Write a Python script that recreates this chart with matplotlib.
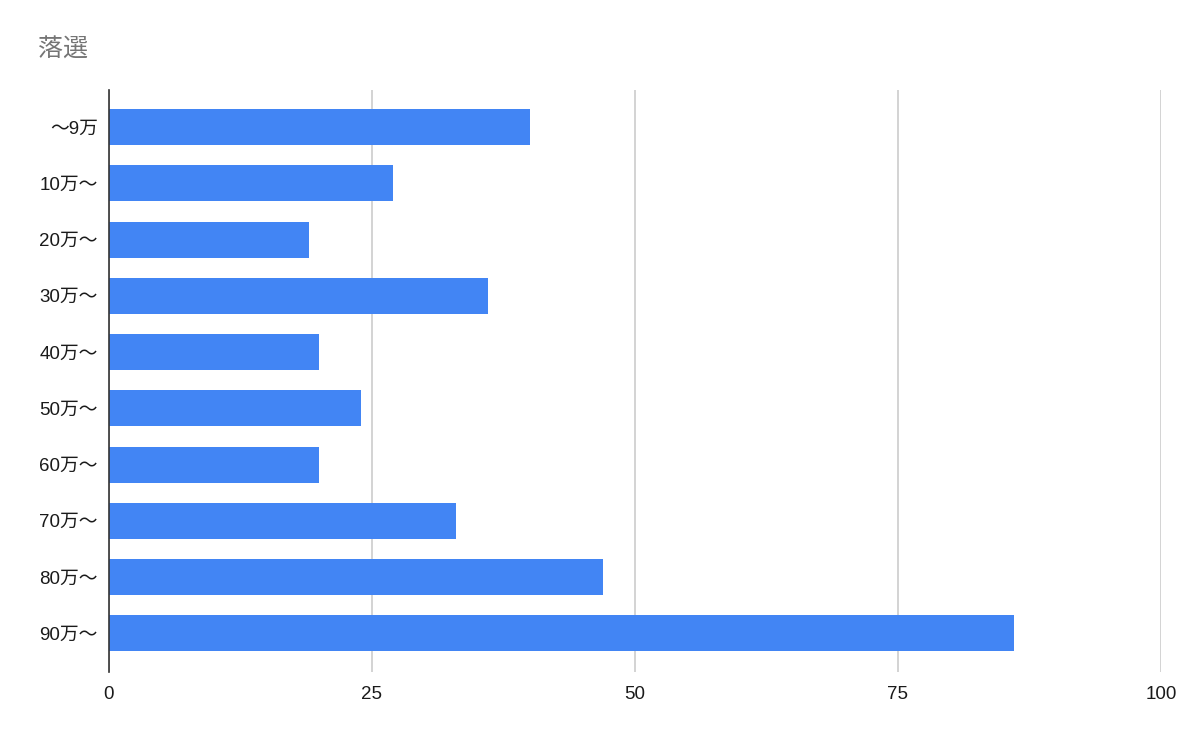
import matplotlib.pyplot as plt

plt.rcParams['font.family'] = ['Liberation Sans', 'Noto Sans CJK JP', 'DejaVu Sans']

categories = ['〜9万', '10万〜', '20万〜', '30万〜', '40万〜', '50万〜', '60万〜', '70万〜', '80万〜', '90万〜']
values = [40, 27, 19, 36, 20, 24, 20, 33, 47, 86]
xticks = [0, 25, 50, 75, 100]

fig = plt.figure(figsize=(12, 7.42), dpi=100)
ax = fig.add_axes([0.0908, 0.0943, 0.8767, 0.7844])

ax.barh(range(len(categories)), values, height=0.64, color='#4285f4', zorder=3)
ax.set_ylim(len(categories) - 1 + 0.69, -0.66)
ax.set_xlim(0, 100)
ax.set_yticks(range(len(categories)))
ax.set_yticklabels(categories, fontsize=13.5, color='#1a1a1a')
ax.set_xticks(xticks)
ax.set_xticklabels([str(t) for t in xticks], fontsize=13.5, color='#1a1a1a')
ax.tick_params(axis='y', length=0, pad=8)
ax.tick_params(axis='x', length=0, pad=10)

ax.grid(axis='x', color='#cccccc', linewidth=1.2, zorder=0)
for s in ['top', 'right', 'bottom']:
    ax.spines[s].set_visible(False)
ax.spines['left'].set_color('#333333')
ax.spines['left'].set_linewidth(1.2)
ax.spines['left'].set_zorder(4)

fig.text(38 / 1200, 1 - 50 / 742, '落選', fontsize=18, color='#757575', va='center', ha='left')

fig.savefig('out.png', dpi=100)
